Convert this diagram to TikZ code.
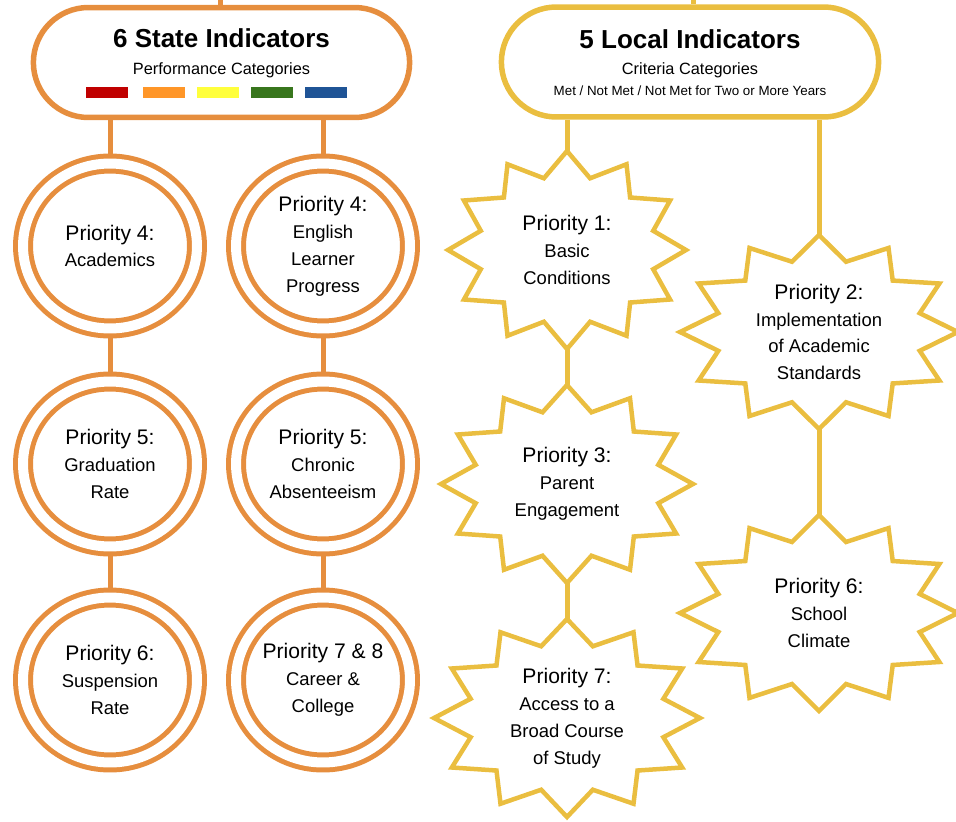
\documentclass[tikz,border=0pt]{standalone}
\usepackage{fontspec}
\setmainfont{Liberation Sans}
\usetikzlibrary{shapes.geometric,shapes.misc}
\definecolor{sorange}{RGB}{230,142,62}
\definecolor{lgold}{RGB}{234,190,64}
\definecolor{bred}{RGB}{192,0,0}
\definecolor{borange}{RGB}{255,150,40}
\definecolor{byellow}{RGB}{255,255,60}
\definecolor{bgreen}{RGB}{56,118,29}
\definecolor{bblue}{RGB}{31,84,150}
\newcommand\pri[1]{{\fontsize{12}{15.3}\selectfont #1}}
% star outline: name, x, y, x radius, y radius, text
\newcommand\burst[6]{%
  \draw[burstline] ({#2},{#3-#5}) \foreach \k in {1,...,23}{
    -- ({#2+(1-0.25*mod(\k,2))*#4*cos(90+15*\k)},{#3-(1-0.25*mod(\k,2))*#5*sin(90+15*\k)})} -- cycle;
  \coordinate (#1-n) at (#2,{#3-#5});
  \coordinate (#1-s) at (#2,{#3+#5});
  \node[btxt] (#1) at (#2,#3) {#6};
}
\begin{document}
\begin{tikzpicture}[x=0.02cm,y=-0.02cm,
    ring/.style={ellipse,draw=sorange,line width=0.1cm,double=white,double distance=0.2cm,
      minimum width=3.48cm,minimum height=3.3cm,inner sep=0pt,outer sep=0.2cm,align=center,
      font=\fontsize{10.5}{15.3}\selectfont},
    pill/.style={rounded rectangle,line width=0.11cm,minimum width=7.76cm,minimum height=2.2cm},
    olnk/.style={draw=sorange,line width=0.1cm},
    glnk/.style={draw=lgold,line width=0.1cm},
    burstline/.style={draw=lgold,line width=0.09cm},
    btxt/.style={align=center,inner sep=0pt,font=\fontsize{10.5}{15.3}\selectfont},
    pilltitle/.style={font=\fontsize{14.8}{17}\selectfont\bfseries,anchor=base},
    subhead/.style={font=\fontsize{9.3}{11}\selectfont,anchor=base},
    smallnote/.style={font=\fontsize{7.6}{9}\selectfont,anchor=base}]
  \useasboundingbox (0,0) rectangle (956,821);

  % state indicators
  \node[pill,draw=sorange] (lpill) at (221.5,62.5) {};
  \node[pilltitle] (ltitle) at (221.5,48) {6 State Indicators};
  \node[subhead] (lsub) at (221.5,74) {Performance Categories};
  \foreach \c/\x in {bred/86,borange/143,byellow/197,bgreen/251,bblue/305}
    \fill[\c] (\x,87) rectangle ++(42,11);
  \coordinate (ltop) at (220,0);
  \draw[olnk] (ltop) -- (lpill.north -| ltop);

  \node[ring] (c1) at (110,246) {\pri{Priority 4:}\\ Academics};
  \node[ring] (c2) at (323,246) {\pri{Priority 4:}\\ English\\ Learner\\ Progress};
  \node[ring] (c3) at (110,464) {\pri{Priority 5:}\\ Graduation\\ Rate};
  \node[ring] (c4) at (323,464) {\pri{Priority 5:}\\ Chronic\\ Absenteeism};
  \node[ring] (c5) at (110,680) {\pri{Priority 6:}\\ Suspension\\ Rate};
  \node[ring] (c6) at (323,680) {\pri{Priority 7 \& 8}\\ Career \&\\ College};

  \draw[olnk] (lpill.south -| c1) -- (c1);
  \draw[olnk] (lpill.south -| c2) -- (c2);
  \draw[olnk] (c1) -- (c3);
  \draw[olnk] (c3) -- (c5);
  \draw[olnk] (c2) -- (c4);
  \draw[olnk] (c4) -- (c6);

  % local indicators
  \node[pill,draw=lgold,minimum width=7.78cm] (rpill) at (690,62) {};
  \node[pilltitle] (rtitle) at (690,49) {5 Local Indicators};
  \node[subhead] (rsub) at (690,74) {Criteria Categories};
  \node[smallnote] (rnote) at (690,95) {Met / Not Met / Not Met for Two or More Years};
  \coordinate (rtop) at (693,0);
  \draw[glnk] (rtop) -- (rpill.north -| rtop);

  \burst{p1}{567}{250}{119}{99}{\pri{Priority 1:}\\ Basic\\ Conditions}
  \burst{p3}{567}{484}{126}{99}{\pri{Priority 3:}\\ Parent\\ Engagement}
  \burst{p7}{567}{718}{133}{99}{\pri{Priority 7:}\\ Access to a\\ Broad Course\\ of Study}
  \burst{p2}{819}{332}{139}{97}{\pri{Priority 2:}\\ Implementation\\ of Academic\\ Standards}
  \burst{p6}{819}{613}{139}{98}{\fontsize{12}{17}\selectfont Priority 6:\\ School\\ Climate}

  \draw[glnk] (rpill.south -| p1-n) -- (p1-n);
  \draw[glnk] (p1-s) -- (p3-n);
  \draw[glnk] (p3-s) -- (p7-n);
  \draw[glnk] (rpill.south -| p2-n) -- (p2-n);
  \draw[glnk] (p2-s) -- (p6-n);
\end{tikzpicture}
\end{document}
